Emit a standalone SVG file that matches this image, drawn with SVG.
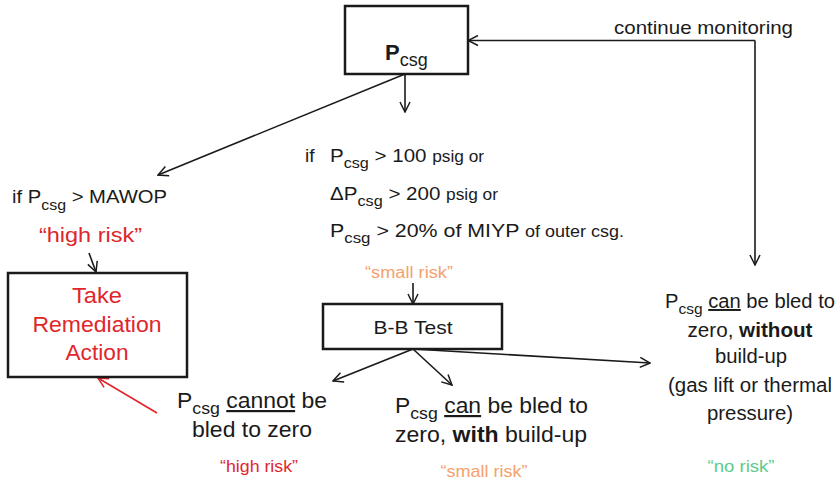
<svg xmlns="http://www.w3.org/2000/svg" width="840" height="482" viewBox="0 0 840 482">
<style>
text{font-family:"Liberation Sans",Arial,Helvetica,sans-serif;fill:#1a1a1a}
.box{fill:#fff;stroke:#1a1a1a;stroke-width:2.5}
.ln{fill:none;stroke:#1a1a1a;stroke-width:1.6}
.lnr{fill:none;stroke:#e0262b;stroke-width:1.6}
.red{fill:#e0262b}
.org{fill:#f6a06c}
.grn{fill:#5ccb8b}
.u{text-decoration:underline}
</style>
<defs>
<marker id="ah" viewBox="0 0 12 12" refX="11" refY="6" markerWidth="12" markerHeight="12" markerUnits="userSpaceOnUse" orient="auto"><path d="M1,1 L11,6 L1,11" fill="none" stroke="#1a1a1a" stroke-width="1.5"/></marker>
<marker id="ahr" viewBox="0 0 12 12" refX="11" refY="6" markerWidth="12" markerHeight="12" markerUnits="userSpaceOnUse" orient="auto"><path d="M1,1 L11,6 L1,11" fill="none" stroke="#e0262b" stroke-width="1.5"/></marker>
</defs>
<g id="connectors">
<line class="ln" x1="755" y1="40.5" x2="755" y2="265" marker-end="url(#ah)"/>
<line class="ln" x1="755" y1="40.5" x2="468" y2="40.5" marker-end="url(#ah)"/>
<line class="ln" x1="405" y1="74" x2="405" y2="112" marker-end="url(#ah)"/>
<line class="ln" x1="405" y1="74" x2="158" y2="175" marker-end="url(#ah)"/>
<line class="ln" x1="89" y1="253" x2="96" y2="272" marker-end="url(#ah)"/>
<line class="ln" x1="413" y1="283" x2="413" y2="304" marker-end="url(#ah)"/>
<line class="ln" x1="413" y1="349" x2="333" y2="381" marker-end="url(#ah)"/>
<line class="ln" x1="413" y1="349" x2="452" y2="385" marker-end="url(#ah)"/>
<line class="ln" x1="413" y1="349" x2="650" y2="363" marker-end="url(#ah)"/>
<line class="lnr" x1="157" y1="413" x2="98" y2="378" marker-end="url(#ahr)"/>
</g>
<text x="614" y="34" font-size="19" textLength="179" lengthAdjust="spacingAndGlyphs">continue monitoring</text>
<g id="pcsg">
<rect class="box" x="345" y="6" width="123" height="68"/>
<text x="385" y="60" font-size="22" font-weight="bold">P<tspan font-size="18" font-weight="normal" dy="6">csg</tspan></text>
</g>
<g id="mawop">
<text x="12" y="203" font-size="19" textLength="155" lengthAdjust="spacingAndGlyphs">if P<tspan font-size="15" dy="7">csg</tspan><tspan dy="-7"> &gt; MAWOP</tspan></text>
<text x="39" y="242" font-size="21" class="red" textLength="103" lengthAdjust="spacingAndGlyphs">“high risk”</text>
</g>
<g id="remediation">
<rect class="box" x="8" y="273" width="179" height="104"/>
<text x="97" y="303" font-size="22" class="red" text-anchor="middle" textLength="50" lengthAdjust="spacingAndGlyphs">Take</text>
<text x="97" y="332" font-size="22" class="red" text-anchor="middle" textLength="129" lengthAdjust="spacingAndGlyphs">Remediation</text>
<text x="97" y="360" font-size="22" class="red" text-anchor="middle" textLength="63" lengthAdjust="spacingAndGlyphs">Action</text>
</g>
<g id="conditions">
<text x="305" y="162" font-size="19">if</text>
<text x="330" y="162" font-size="19" textLength="154" lengthAdjust="spacingAndGlyphs">P<tspan font-size="15" dy="6">csg</tspan><tspan dy="-6"> &gt; 100 </tspan><tspan font-size="16">psig or</tspan></text>
<text x="330" y="200" font-size="19" textLength="168" lengthAdjust="spacingAndGlyphs">ΔP<tspan font-size="15" dy="6">csg</tspan><tspan dy="-6"> &gt; 200 </tspan><tspan font-size="16">psig or</tspan></text>
<text x="330" y="237" font-size="19" textLength="294" lengthAdjust="spacingAndGlyphs">P<tspan font-size="15" dy="6">csg</tspan><tspan dy="-6"> &gt; 20% of MIYP </tspan><tspan font-size="16">of outer csg.</tspan></text>
<text x="365" y="278" font-size="16" class="org" textLength="88" lengthAdjust="spacingAndGlyphs">“small risk”</text>
</g>
<g id="bbtest">
<rect class="box" x="323" y="304" width="179" height="45"/>
<text x="413" y="334" font-size="19" text-anchor="middle" textLength="79" lengthAdjust="spacingAndGlyphs">B-B Test</text>
</g>
<g id="cannot">
<text x="177" y="408" font-size="22" textLength="150" lengthAdjust="spacingAndGlyphs">P<tspan font-size="17" dy="6">csg</tspan><tspan dy="-6"> </tspan><tspan class="u">cannot</tspan> be</text>
<text x="252" y="437" font-size="22" text-anchor="middle" textLength="120" lengthAdjust="spacingAndGlyphs">bled to zero</text>
<text x="259" y="472" font-size="17" class="red" text-anchor="middle" textLength="78" lengthAdjust="spacingAndGlyphs">“high risk”</text>
</g>
<g id="withbuild">
<text x="395" y="413" font-size="22" textLength="193" lengthAdjust="spacingAndGlyphs">P<tspan font-size="17" dy="6">csg</tspan><tspan dy="-6"> </tspan><tspan class="u">can</tspan> be bled to</text>
<text x="395" y="442" font-size="22" textLength="192" lengthAdjust="spacingAndGlyphs">zero, <tspan font-weight="bold">with</tspan> build-up</text>
<text x="484" y="477" font-size="17" class="org" text-anchor="middle" textLength="87" lengthAdjust="spacingAndGlyphs">“small risk”</text>
</g>
<g id="without">
<text x="665" y="308" font-size="19.5" textLength="170" lengthAdjust="spacingAndGlyphs">P<tspan font-size="15" dy="6">csg</tspan><tspan dy="-6"> </tspan><tspan class="u">can</tspan> be bled to</text>
<text x="750" y="337" font-size="19.5" text-anchor="middle" textLength="125" lengthAdjust="spacingAndGlyphs">zero, <tspan font-weight="bold">without</tspan></text>
<text x="751" y="363" font-size="19.5" text-anchor="middle" textLength="72" lengthAdjust="spacingAndGlyphs">build-up</text>
<text x="750" y="392" font-size="19.5" text-anchor="middle" textLength="164" lengthAdjust="spacingAndGlyphs">(gas lift or thermal</text>
<text x="750" y="420" font-size="19.5" text-anchor="middle" textLength="86" lengthAdjust="spacingAndGlyphs">pressure)</text>
<text x="741" y="472" font-size="17" class="grn" text-anchor="middle" textLength="67" lengthAdjust="spacingAndGlyphs">“no risk”</text>
</g>
</svg>
